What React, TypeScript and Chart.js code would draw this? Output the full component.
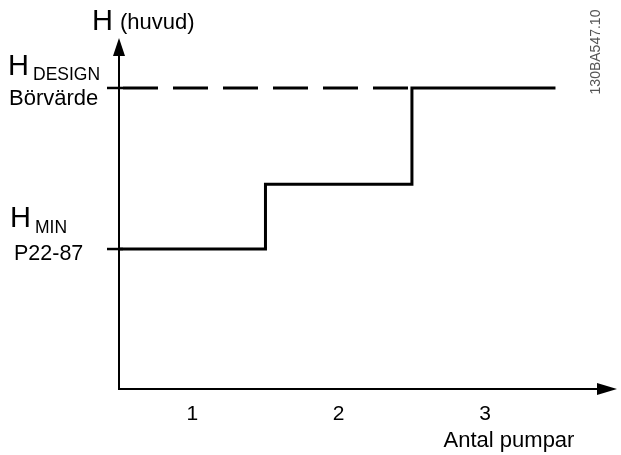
import React, { useEffect, useRef } from "react";
import { Chart, registerables } from "chart.js";

Chart.register(...registerables);

// ---- data ----
const tickValues = [1, 2, 3];
const tickLabels = ["1", "2", "3"];
const stepX = [0.5, 1.5, 2.5, 3.48];
const stepH = [46.5, 68, 100, 100];
const designX = [0.5, 2.5];
const designH = [100, 100];
const hDesign = 100;
const hMin = 46.5;
const xMin = 0.5;
const xMax = 3.9;
const yMax = 116.6;
const xTitle = "Antal pumpar";
const yTitleMain = "H";
const yTitleSub = "(huvud)";
const designLabelMain = "H";
const designLabelSub = "DESIGN";
const designLabel2 = "Börvärde";
const minLabelMain = "H";
const minLabelSub = "MIN";
const minLabel2 = "P22-87";
const docCode = "130BA547.10";

const FONT = "'Liberation Sans', Arial, Helvetica, sans-serif";

const diagramPlugin = {
  id: "diagram",
  beforeDatasetsDraw(chart: any) {
    const { ctx, chartArea, scales } = chart;
    const x0 = scales.x.getPixelForValue(xMin);
    const y0 = scales.y.getPixelForValue(0);
    const top = chartArea.top;
    const right = chartArea.right;
    ctx.save();
    ctx.strokeStyle = "#000";
    ctx.fillStyle = "#000";
    ctx.lineWidth = 2;
    // y axis
    ctx.beginPath();
    ctx.moveTo(x0, y0);
    ctx.lineTo(x0, top + 16);
    ctx.stroke();
    ctx.beginPath();
    ctx.moveTo(x0, top);
    ctx.lineTo(x0 - 6, top + 18);
    ctx.lineTo(x0 + 6, top + 18);
    ctx.closePath();
    ctx.fill();
    // x axis
    ctx.beginPath();
    ctx.moveTo(x0 - 1, y0);
    ctx.lineTo(right - 18, y0);
    ctx.stroke();
    ctx.beginPath();
    ctx.moveTo(right, y0);
    ctx.lineTo(right - 20, y0 - 6);
    ctx.lineTo(right - 20, y0 + 6);
    ctx.closePath();
    ctx.fill();
    // ticks on y axis
    ctx.lineWidth = 2.5;
    [hDesign, hMin].forEach((v) => {
      const y = scales.y.getPixelForValue(v);
      ctx.beginPath();
      ctx.moveTo(x0 - 12, y);
      ctx.lineTo(x0 + 4, y);
      ctx.stroke();
    });
    ctx.restore();
  },
  afterDraw(chart: any) {
    const { ctx, scales, chartArea } = chart;
    const y0 = scales.y.getPixelForValue(0);
    const x0 = scales.x.getPixelForValue(xMin);
    ctx.save();
    ctx.fillStyle = "#000";
    ctx.textBaseline = "alphabetic";
    ctx.textAlign = "left";
    // y title
    ctx.font = `29px ${FONT}`;
    ctx.fillText(yTitleMain, x0 - 27, chartArea.top - 8);
    ctx.font = `22px ${FONT}`;
    ctx.fillText(yTitleSub, x0 + 1, chartArea.top - 9);
    // design label
    const yd = scales.y.getPixelForValue(hDesign);
    ctx.font = `29px ${FONT}`;
    ctx.fillText(designLabelMain, 8, yd - 13);
    ctx.font = `17.5px ${FONT}`;
    ctx.fillText(designLabelSub, 33, yd - 8);
    ctx.font = `22px ${FONT}`;
    ctx.fillText(designLabel2, 9, yd + 17);
    // min label
    const ym = scales.y.getPixelForValue(hMin);
    ctx.font = `29px ${FONT}`;
    ctx.fillText(minLabelMain, 10, ym - 22);
    ctx.font = `17.5px ${FONT}`;
    ctx.fillText(minLabelSub, 35, ym - 16);
    ctx.font = `21.5px ${FONT}`;
    ctx.fillText(minLabel2, 14, ym + 11);
    // x ticks
    ctx.textAlign = "center";
    ctx.font = `21px ${FONT}`;
    tickValues.forEach((v, i) => {
      ctx.fillText(tickLabels[i], scales.x.getPixelForValue(v), y0 + 31);
    });
    ctx.font = `22px ${FONT}`;
    ctx.fillText(xTitle, 509, y0 + 58);
    // doc code
    ctx.save();
    ctx.translate(596, 52);
    ctx.rotate(-Math.PI / 2);
    ctx.font = `14px ${FONT}`;
    ctx.fillStyle = "#555";
    ctx.textAlign = "center";
    ctx.textBaseline = "middle";
    ctx.fillText(docCode, 0, 0);
    ctx.restore();
    ctx.restore();
  },
};

export default function App() {
  const ref = useRef<HTMLCanvasElement>(null);
  useEffect(() => {
    document.body.style.margin = "0";
    const chart = new Chart(ref.current!, {
      type: "line",
      data: {
        datasets: [
          {
            data: designX.map((x, i) => ({ x, y: designH[i] })),
            borderColor: "#000",
            borderWidth: 3,
            borderDash: [35, 15],
            borderDashOffset: 46,
            pointRadius: 0,
            fill: false,
          },
          {
            data: stepX.map((x, i) => ({ x, y: stepH[i] })),
            borderColor: "#000",
            borderWidth: 3,
            stepped: "before",
            pointRadius: 0,
            fill: false,
            borderCapStyle: "butt",
            borderJoinStyle: "miter",
          },
        ],
      },
      options: {
        responsive: false,
        animation: false,
        layout: { padding: { left: 119, right: 4, top: 38, bottom: 66 } },
        plugins: { legend: { display: false }, tooltip: { enabled: false } },
        scales: {
          x: { type: "linear", min: xMin, max: xMax, display: false },
          y: { type: "linear", min: 0, max: yMax, display: false },
        },
      },
      plugins: [diagramPlugin],
    } as any);
    return () => chart.destroy();
  }, []);
  return (
    <div style={{ width: 621, height: 455, background: "#fff" }}>
      <canvas ref={ref} width={621} height={455} />
    </div>
  );
}
